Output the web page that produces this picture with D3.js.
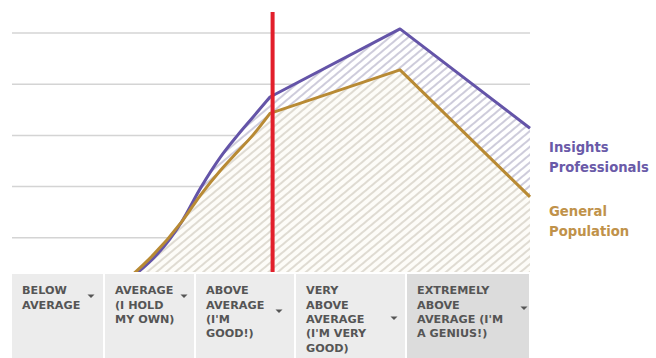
<!DOCTYPE html>
<html>
<head>
<meta charset="utf-8">
<script src="https://cdn.jsdelivr.net/npm/d3@7"></script>
<style>
  body { margin: 0; background: #fff; }
  svg { display: block; }
</style>
</head>
<body>
<div id="chart"></div>
<script>
// data (x = position on the 0-4 rating axis, y = share)
const xPos = [0.82, 1.32, 1.47, 1.62, 1.75, 1.87, 2.0, 3.0, 4.0];
const insights = [0, 13.1, 19.9, 25.8, 30.0, 33.6, 37.5, 50.8, 31.4];
const general = [0, 13.1, 18.5, 23.2, 26.8, 30.1, 34.3, 42.8, 18.0];
const gridTicks = [10, 20, 30, 40, 50];
const marker = 2.02; // red line at "above average"
const smoothUpTo = 6; // rising part is curved, the rest straight

const categories = [
  ["BELOW", "AVERAGE"],
  ["AVERAGE", "(I HOLD", "MY OWN)"],
  ["ABOVE", "AVERAGE", "(I'M", "GOOD!)"],
  ["VERY", "ABOVE", "AVERAGE", "(I'M VERY", "GOOD)"],
  ["EXTREMELY", "ABOVE", "AVERAGE (I'M", "A GENIUS!)"]
];
const seriesNames = [["Insights", "Professionals"], ["General", "Population"]];

// layout bits
const colEdges = [12, 105, 196, 296, 407, 531];
const arrowDx = [-14, -12, -17, -13, -7];
const arrowY = [296, 296, 311, 318, 308];

const width = 656, height = 358;
const svg = d3.select("#chart").append("svg")
  .attr("width", width).attr("height", height);

const x = d3.scaleLinear().domain([0, 4]).range([10, 530]);
const y = d3.scaleLinear().domain([0, 50]).range([289, 33]);

// hatch patterns
const defs = svg.append("defs");
function hatch(id, bg, stroke) {
  const p = defs.append("pattern")
    .attr("id", id)
    .attr("patternUnits", "userSpaceOnUse")
    .attr("width", 6).attr("height", 6)
    .attr("patternTransform", "rotate(-40)");
  p.append("rect").attr("width", 6).attr("height", 6).attr("fill", bg);
  p.append("line").attr("x1", 0).attr("x2", 6).attr("y1", 3).attr("y2", 3)
    .attr("stroke", stroke).attr("stroke-width", 1.3);
}
hatch("hatchP", "#ffffff", "#b4b0c8");
hatch("hatchG", "#fdfcf8", "#cfc9bd");

// gridlines
svg.selectAll(".grid")
  .data(gridTicks)
  .join("line")
  .attr("class", "grid")
  .attr("x1", 12).attr("x2", 530)
  .attr("y1", d => y(d)).attr("y2", d => y(d))
  .attr("stroke", "#d4d4d4")
  .attr("stroke-width", 1.5);

const pts = (vals) => xPos.map((d, i) => [d, vals[i]]);

const smoothLine = d3.line()
  .x(d => x(d[0])).y(d => y(d[1]))
  .curve(d3.curveMonotoneX);

// curved rise, then straight segments
function linePath(vals) {
  const p = pts(vals);
  const a = smoothLine(p.slice(0, smoothUpTo + 1));
  const rest = p.slice(smoothUpTo + 1).map(d => `L${x(d[0])},${y(d[1])}`).join("");
  return a + rest;
}
function areaPath(vals) {
  return linePath(vals) + `L${x(xPos[xPos.length - 1])},${y(0)}L${x(xPos[0])},${y(0)}Z`;
}

svg.append("path").attr("d", areaPath(insights)).attr("fill", "url(#hatchP)");
svg.append("path").attr("d", areaPath(general)).attr("fill", "url(#hatchG)");

svg.append("path")
  .attr("d", linePath(insights))
  .attr("fill", "none")
  .attr("stroke", "#6454a8")
  .attr("stroke-width", 3)
  .attr("stroke-linejoin", "round");

svg.append("path")
  .attr("d", linePath(general))
  .attr("fill", "none")
  .attr("stroke", "#b88a34")
  .attr("stroke-width", 3)
  .attr("stroke-linejoin", "round");

// red marker
svg.append("line")
  .attr("x1", x(marker)).attr("x2", x(marker))
  .attr("y1", 12).attr("y2", 274)
  .attr("stroke", "#e21f2b")
  .attr("stroke-width", 4);

// header table
const head = svg.append("g");
head.append("rect")
  .attr("x", 0).attr("y", 272).attr("width", 540).attr("height", 86)
  .attr("fill", "#fff");

const cols = head.selectAll(".col")
  .data(categories)
  .join("g")
  .attr("class", "col");

cols.append("rect")
  .attr("x", (d, i) => colEdges[i])
  .attr("y", 274)
  .attr("width", (d, i) => colEdges[i + 1] - colEdges[i] - 2)
  .attr("height", 84)
  .attr("fill", (d, i) => i === 4 ? "#dcdcdc" : "#ececec");

cols.append("text")
  .attr("font-family", "DejaVu Sans, sans-serif")
  .attr("font-weight", "bold")
  .attr("font-size", 11.2)
  .attr("fill", "#555")
  .selectAll("tspan")
  .data((d, i) => d.map(t => ({ t, i })))
  .join("tspan")
  .attr("x", d => colEdges[d.i] + 10)
  .attr("y", (d, j) => 294.3 + j * 14.3)
  .text(d => d.t);

cols.append("path")
  .attr("d", (d, i) => {
    const cx = colEdges[i + 1] + arrowDx[i], cy = arrowY[i];
    return `M${cx - 3.5},${cy - 1.5}L${cx + 3.5},${cy - 1.5}L${cx},${cy + 2}Z`;
  })
  .attr("fill", "#555");

// legend labels
const legColors = ["#6a5aa8", "#c0924a"];
const legY = [152, 216];
svg.selectAll(".leg")
  .data(seriesNames)
  .join("text")
  .attr("class", "leg")
  .attr("font-family", "DejaVu Sans, sans-serif")
  .attr("font-weight", "bold")
  .attr("font-size", 13.2)
  .attr("fill", (d, i) => legColors[i])
  .selectAll("tspan")
  .data((d, i) => d.map(t => ({ t, i })))
  .join("tspan")
  .attr("x", 549)
  .attr("y", (d, j) => legY[d.i] + j * 20)
  .text(d => d.t);
</script>
</body>
</html>
